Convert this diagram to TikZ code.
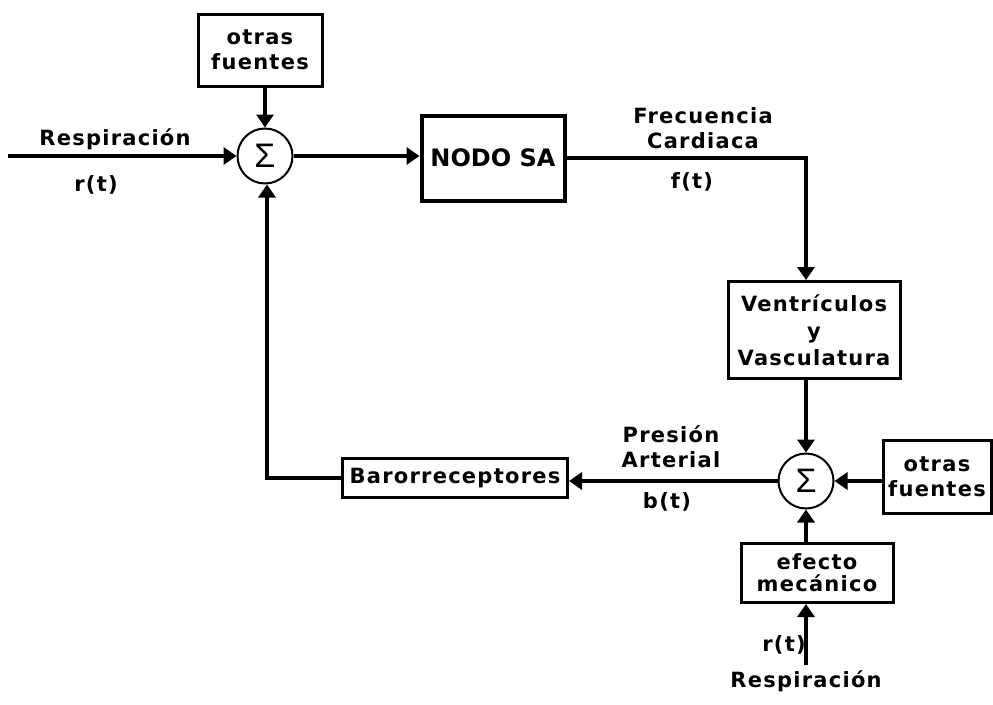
\documentclass[tikz,border=0pt]{standalone}
\usepackage{fontspec}
\setmainfont{DejaVu Sans}[LetterSpace=6]
\newfontfamily\sigmafont{Liberation Sans}
\newfontfamily\boxheadfont{DejaVu Sans}
\usetikzlibrary{arrows.meta}
\begin{document}
\begin{tikzpicture}[x=1pt,y=-1pt,
  lbl/.style={font=\bfseries\fontsize{21}{25}\selectfont, align=center, inner sep=0pt},
  blk/.style={draw, line width=3pt, font=\bfseries\fontsize{21}{25}\selectfont, align=center, inner sep=0pt},
  sumnode/.style={draw, circle, line width=2pt, minimum size=55pt, inner sep=0pt,
    font=\sigmafont\fontsize{34}{34}\selectfont},
  sig/.style={line width=4pt, -{Triangle[length=13pt,width=17pt]}}]
\useasboundingbox (0,0) rectangle (993,704);

% blocks
\node[blk, minimum width=124pt, minimum height=72pt] (of1) at (260,50) {otras\\fuentes};
\node[sumnode] (s1) at (265,156) {Σ};
\node[blk, line width=4pt, minimum width=143pt, minimum height=85pt,
      font=\boxheadfont\bfseries\fontsize{24}{28}\selectfont] (sa) at (493,158) {NODO SA};
\node[blk, minimum width=172pt, minimum height=97pt, font=\bfseries\fontsize{21}{27}\selectfont]
      (vv) at (814,330) {Ventrículos\\y\\Vasculatura};
\node[sumnode] (s2) at (806,481) {Σ};
\node[blk, minimum width=108pt, minimum height=73pt] (of2) at (937,477) {otras\\fuentes};
\node[blk, minimum width=152pt, minimum height=59pt, font=\bfseries\fontsize{21}{22}\selectfont]
      (em) at (817,573) {efecto\\mecánico};
\node[blk, minimum width=225pt, minimum height=39pt] (br) at (455,478) {Barorreceptores};

% free ends
\coordinate (inL) at (8,156);
\coordinate (inB) at (806,665);
\coordinate (c1) at (806,158);
\coordinate (c2) at (267,478);

% signal lines
\draw[sig, line width=3.5pt] (inL) -- (s1);
\draw[sig] (of1.south -| s1) -- (s1);
\draw[sig] (s1) -- (sa.west |- s1);
\draw[sig] (sa.east |- c1) -- (c1) -- (vv.north -| c1);
\draw[sig] (vv.south -| s2) -- (s2);
\draw[sig] (of2.west |- s2) -- (s2);
\draw[sig] (em.north -| s2) -- (s2);
\draw[sig] (inB) -- (em.south -| inB);
\draw[sig] (s2.west) -- (br.east |- s2.west);
\draw[sig] (br.west) -- (c2) -- (s1.south -| c2);

% labels
\node[lbl] (l1) at (115,139) {Respiración};
\node[lbl] (l2) at (96,185) {r(t)};
\node[lbl] (l3) at (703,128) {Frecuencia\\Cardiaca};
\node[lbl] (l4) at (692,182) {f(t)};
\node[lbl] (l5) at (671,447) {Presión\\Arterial};
\node[lbl] (l6) at (667,502) {b(t)};
\node[lbl] (l7) at (784,645) {r(t)};
\node[lbl] (l8) at (806,681) {Respiración};
\end{tikzpicture}
\end{document}
